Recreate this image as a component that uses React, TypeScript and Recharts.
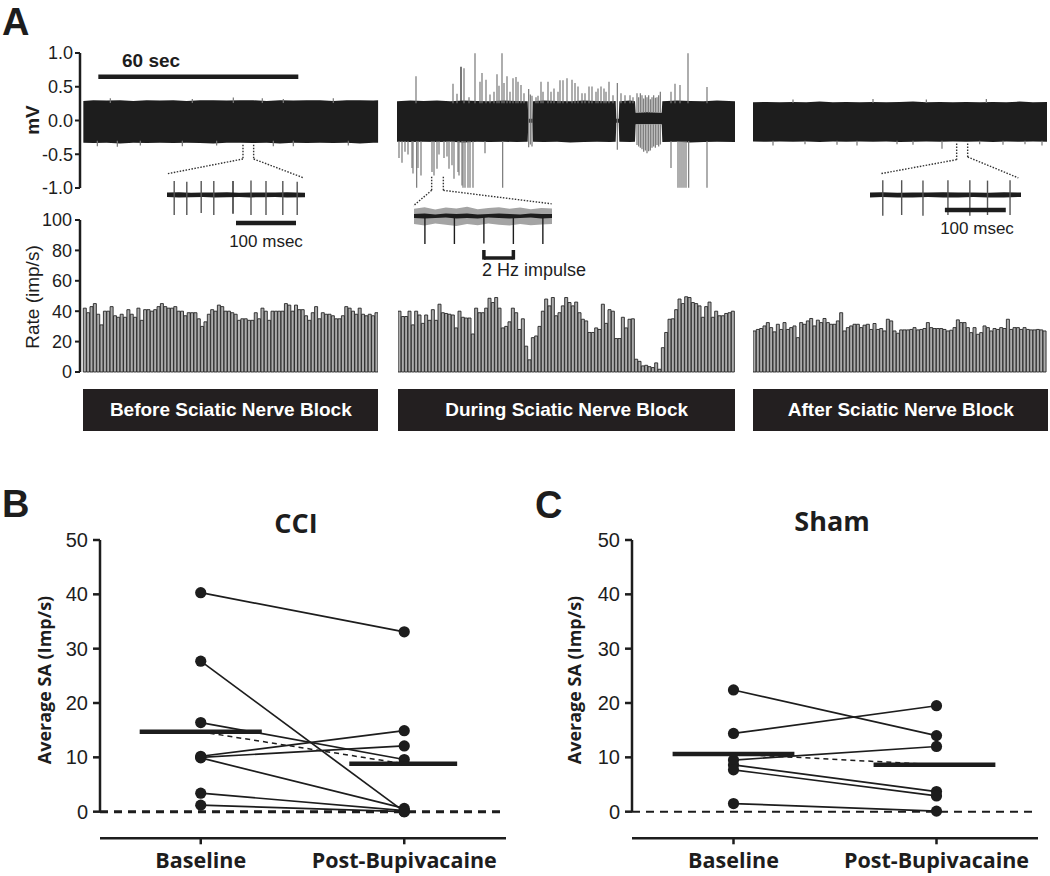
import React from 'react';
import { BarChart, ComposedChart, Bar, Area, Scatter, XAxis, YAxis, ReferenceLine } from 'recharts';

const INK = '#1d1d1d';
const SPIKE = '#777777';
const SANS = '"Liberation Sans", Arial, sans-serif';
const HEAD = '"Open Sans", "Liberation Sans", sans-serif';

// where an up / down spike leaves the noise band (hidden under the band)
const UP_EDGE = 0.26;
const DOWN_EDGE = -0.3;

// ---- A: raw traces, t in seconds, values in mV ----
const BEFORE_BAND_T = [0, 3, 7, 11, 15, 19, 23, 27, 31, 35, 39, 43, 47, 51, 55, 59, 63, 67, 71, 75, 79, 83, 87, 88.5];
const BEFORE_BAND_HI = [0.29, 0.3, 0.295, 0.3, 0.29, 0.3, 0.295, 0.3, 0.29, 0.3, 0.3, 0.295, 0.3, 0.3, 0.29, 0.3, 0.295, 0.3, 0.3, 0.29, 0.3, 0.3, 0.295, 0.3];
const BEFORE_BAND_LO = [-0.33, -0.335, -0.33, -0.34, -0.33, -0.335, -0.33, -0.335, -0.33, -0.335, -0.34, -0.33, -0.33, -0.335, -0.33, -0.34, -0.33, -0.335, -0.33, -0.335, -0.33, -0.34, -0.33, -0.33];
const BEFORE_UP_T = [8.1, 32.7, 45.0, 53.7, 60.0, 75.0];
const BEFORE_UP_V = [0.33, 0.32, 0.34, 0.33, 0.32, 0.33];
const BEFORE_DOWN_T = [4.2, 10.2, 17.1, 29.7, 40.0, 57.0, 63.0, 79.5];
const BEFORE_DOWN_V = [-0.38, -0.39, -0.37, -0.38, -0.37, -0.38, -0.38, -0.37];

const DURING_BAND_T = [0, 4, 8, 12, 16, 20, 24, 28, 32, 36, 39.2, 39.4, 40.6, 40.8, 44, 48, 52, 56, 60, 64, 65.6, 65.8, 66.5, 66.7, 70, 71.4, 71.6, 75, 79.4, 79.6, 84, 88, 92, 96, 101.4];
const DURING_BAND_HI = [0.29, 0.3, 0.295, 0.3, 0.29, 0.3, 0.295, 0.29, 0.3, 0.295, 0.29, 0.03, 0.03, 0.29, 0.3, 0.295, 0.29, 0.3, 0.295, 0.29, 0.295, 0.03, 0.03, 0.29, 0.3, 0.29, 0.12, 0.13, 0.12, 0.29, 0.3, 0.295, 0.29, 0.3, 0.29];
const DURING_BAND_LO = [-0.31, -0.315, -0.31, -0.315, -0.31, -0.32, -0.31, -0.315, -0.31, -0.315, -0.31, -0.03, -0.03, -0.31, -0.315, -0.31, -0.32, -0.315, -0.31, -0.315, -0.31, -0.03, -0.03, -0.31, -0.315, -0.31, -0.05, -0.05, -0.05, -0.315, -0.31, -0.32, -0.315, -0.31, -0.315];
const DURING_UP_T = [5.7, 16.8, 18.0, 20.1, 21.6, 23.4, 24.9, 25.5, 26.7, 27.9, 29.1, 30.0, 30.6, 31.5, 32.1, 33.0, 33.9, 34.8, 35.7, 36.3, 37.2, 38.1, 41.7, 42.3, 43.2, 43.8, 45.3, 46.2, 47.1, 48.3, 48.9, 49.8, 51.0, 52.5, 53.4, 54.3, 55.5, 56.4, 57.6, 58.5, 59.7, 60.3, 61.2, 62.1, 62.7, 63.6, 64.8, 67.2, 68.4, 69.9, 70.8, 82.2, 83.4, 84.9, 87.3, 93.0];
const DURING_UP_V = [0.66, 0.55, 0.4, 0.78, 0.35, 1.0, 0.58, 0.71, 0.61, 0.39, 0.43, 0.69, 0.52, 1.0, 0.56, 0.66, 0.43, 0.63, 0.65, 0.58, 0.53, 0.41, 0.35, 0.37, 0.58, 0.43, 0.58, 0.43, 0.48, 0.43, 0.6, 0.6, 0.63, 0.61, 0.56, 0.51, 0.41, 0.41, 0.51, 0.51, 0.43, 0.48, 0.51, 0.48, 0.43, 0.58, 0.38, 0.41, 0.38, 0.38, 0.35, 0.43, 0.55, 0.53, 1.0, 0.5];
const DURING_DARK_T = [19.2];
const DURING_DARK_V = [0.8];
const DURING_DOWN_T = [0.6, 1.5, 2.4, 3.3, 4.5, 4.8, 5.9, 6.3, 7.2, 10.5, 11.1, 12.0, 12.6, 14.1, 15.0, 15.6, 16.5, 17.1, 18.3, 18.6, 19.5, 19.8, 20.4, 21.3, 21.9, 22.8, 26.4, 31.7, 82.2, 84.3, 84.9, 85.5, 86.1, 86.7, 87.5, 93.0];
const DURING_DOWN_V = [-0.55, -0.62, -0.46, -0.5, -0.7, -0.78, -0.99, -0.7, -0.81, -0.76, -0.81, -0.71, -0.5, -0.55, -0.53, -0.71, -0.66, -0.86, -0.76, -0.81, -0.96, -0.99, -0.99, -0.99, -0.99, -0.99, -0.48, -0.99, -0.7, -0.99, -0.99, -0.99, -0.99, -0.99, -0.99, -0.99];
// short pauses in the band: spikes run straight through
const DURING_GAP_T = [39.5, 40.0, 40.5, 66.1];
const DURING_GAP_HI = [0.47, 0.39, 0.37, 0.56];
const DURING_GAP_LO = [-0.39, -0.35, -0.38, -0.43];
// burst over the thin-band stretch (72-79 s)
const DURING_BURST_T = [72.0, 72.5, 73.0, 73.5, 74.0, 74.5, 75.0, 75.5, 76.0, 76.5, 77.0, 77.5, 78.0, 78.5, 79.0];
const DURING_BURST_HI = [0.41, 0.35, 0.41, 0.38, 0.33, 0.38, 0.35, 0.38, 0.32, 0.35, 0.38, 0.34, 0.35, 0.38, 0.43];
const DURING_BURST_LO = [-0.36, -0.38, -0.4, -0.42, -0.46, -0.44, -0.48, -0.45, -0.44, -0.4, -0.38, -0.4, -0.36, -0.38, -0.35];

const AFTER_BAND_T = [0, 4, 8, 12, 16, 20, 24, 28, 32, 36, 40, 44, 48, 52, 56, 60, 64, 68, 72, 76, 80, 84, 88.2];
const AFTER_BAND_HI = [0.27, 0.275, 0.27, 0.275, 0.27, 0.28, 0.27, 0.275, 0.27, 0.275, 0.27, 0.275, 0.28, 0.27, 0.275, 0.27, 0.275, 0.27, 0.275, 0.27, 0.28, 0.27, 0.275];
const AFTER_BAND_LO = [-0.31, -0.315, -0.31, -0.315, -0.31, -0.32, -0.31, -0.315, -0.31, -0.315, -0.31, -0.32, -0.315, -0.31, -0.315, -0.31, -0.315, -0.31, -0.32, -0.31, -0.315, -0.31, -0.315];
const AFTER_UP_T = [12.0, 36.0, 52.0, 70.0];
const AFTER_UP_V = [0.31, 0.32, 0.31, 0.32];
const AFTER_DOWN_T = [6.0, 15.6, 25.2, 31.2, 43.2, 48.0, 56.7, 68.0, 75.0, 81.6, 86.7];
const AFTER_DOWN_V = [-0.37, -0.35, -0.36, -0.37, -0.35, -0.36, -0.42, -0.35, -0.36, -0.35, -0.37];

// ---- A: expanded insets, t in msec ----
const INSET1_NOISE_T = [0, 20, 40, 60, 80, 100, 120, 140, 160, 180, 200, 230];
const INSET1_NOISE_HI = [0.06, 0.07, 0.055, 0.065, 0.06, 0.07, 0.055, 0.065, 0.06, 0.065, 0.07, 0.055];
const INSET1_NOISE_LO = [-0.05, -0.06, -0.055, -0.05, -0.06, -0.055, -0.05, -0.06, -0.055, -0.05, -0.06, -0.055];
const INSET1_T = [12, 33, 57, 78, 110, 140, 165, 193, 217];
const INSET1_HI = [0.35, 0.33, 0.35, 0.35, 0.35, 0.36, 0.35, 0.35, 0.33];
const INSET1_LO = [-0.5, -0.5, -0.45, -0.5, -0.47, -0.5, -0.5, -0.5, -0.5];

const INSET2_NOISE_T = [0, 180, 360, 540, 720, 900, 1080, 1260, 1440, 1620, 1800, 1980, 2160, 2340];
const INSET2_GREY_HI = [0.18, 0.22, 0.16, 0.21, 0.19, 0.23, 0.17, 0.2, 0.22, 0.18, 0.21, 0.17, 0.2, 0.19];
const INSET2_GREY_LO = [-0.2, -0.24, -0.19, -0.22, -0.25, -0.2, -0.23, -0.19, -0.22, -0.24, -0.2, -0.23, -0.21, -0.2];
const INSET2_CORE_HI = [0.05, 0.06, 0.04, 0.06, 0.05, 0.06, 0.04, 0.05, 0.06, 0.05, 0.04, 0.06, 0.05, 0.05];
const INSET2_CORE_LO = [-0.05, -0.06, -0.05, -0.04, -0.06, -0.05, -0.06, -0.04, -0.05, -0.06, -0.05, -0.04, -0.06, -0.05];
const INSET2_T = [185, 685, 1185, 1685, 2185];
const INSET2_LO = [-0.7, -0.7, -0.69, -0.7, -0.7];
const INSET2_HI = [0, 0, 0, 0, 0];

const INSET3_NOISE_T = [0, 20, 45, 70, 95, 120, 145, 170, 195, 220, 248];
const INSET3_NOISE_HI = [0.06, 0.07, 0.055, 0.065, 0.06, 0.07, 0.06, 0.065, 0.055, 0.07, 0.06];
const INSET3_NOISE_LO = [-0.06, -0.05, -0.065, -0.06, -0.05, -0.065, -0.06, -0.05, -0.065, -0.06, -0.05];
const INSET3_T = [21, 52, 87, 128, 164, 193, 230];
const INSET3_HI = [0.37, 0.37, 0.36, 0.37, 0.37, 0.36, 0.37];
const INSET3_LO = [-0.52, -0.5, -0.52, -0.5, -0.52, -0.5, -0.5];

// ---- A: firing rate histograms, imp/s per 1-s bin ----
const BEFORE_RATE = [42, 39, 43, 45, 38, 31, 40, 40, 43, 37, 36, 38, 36, 41, 38, 36, 42, 34, 41, 41, 40, 41, 43, 45, 43, 42, 42, 43, 40, 40, 37, 39, 39, 39, 35, 30, 33, 38, 41, 40, 44, 43, 40, 40, 39, 38, 34, 35, 35, 34, 34, 39, 35, 42, 40, 34, 40, 40, 40, 40, 45, 44, 40, 44, 41, 41, 37, 34, 39, 43, 35, 39, 38, 38, 37, 35, 35, 37, 43, 42, 40, 38, 42, 38, 37, 38, 37, 39];
const DURING_RATE = [40, 36.5, 36.5, 40, 31, 40, 37.5, 32, 37.5, 34, 41, 34, 44.6, 39, 38.5, 38, 37.5, 29, 40, 36, 35.5, 35.5, 25, 42, 39, 39, 42, 48.5, 45.7, 49, 42, 29, 30, 33, 42, 39, 28, 35, 17, 8, 22.6, 23.7, 30, 40, 48, 43.5, 49, 37, 39, 43.5, 49, 45.7, 43.5, 46, 39, 34.7, 33.6, 26, 26, 29, 28, 44.6, 32, 41, 40, 22, 22, 36, 29, 34.7, 35, 8.4, 7, 4, 4.4, 3.5, 2.9, 6, 1.8, 16, 26, 34.7, 35, 41, 48, 45, 49.5, 49, 45.7, 45, 43.5, 36, 43, 46, 36, 40, 37, 37, 38.5, 39, 40];
const AFTER_RATE = [27, 28, 28.6, 30.3, 32.5, 29.2, 26.4, 31.4, 28, 32.5, 28, 29.2, 30.3, 22.6, 32.5, 31.4, 33.6, 35.2, 30.3, 34.1, 32.5, 35.2, 32.5, 31.4, 31.4, 33.6, 39, 27, 29.2, 30.3, 31.4, 31.4, 29.2, 30.8, 31.4, 28, 31.9, 28, 28.6, 27, 34.7, 33.6, 27, 25.5, 27.7, 27.7, 27.7, 28, 29.2, 27.7, 28, 28.6, 32.5, 29.2, 28.6, 28.6, 28.6, 28, 27, 27.5, 29.2, 34.3, 32.5, 32.5, 29.2, 25.9, 29.2, 24.8, 25.9, 30.3, 29.2, 27, 28.6, 28, 29.2, 28.6, 34.7, 28, 29.2, 29.2, 28, 29.2, 28, 27.7, 27.7, 28, 27.7, 27];

// ---- B / C: average SA per cell (imp/s) ----
const GROUPS = ['Baseline', 'Post-Bupivacaine'];
const CCI_BASE = [40.3, 27.7, 16.4, 10.2, 10.0, 9.9, 3.4, 1.2];
const CCI_POST = [33.1, 0.0, 9.6, 14.9, 12.1, 0.6, 0.2, 0.0];
const CCI_MEAN = [14.7, 8.8];
const SHAM_BASE = [22.4, 14.4, 9.5, 8.6, 7.7, 1.5];
const SHAM_POST = [14.0, 19.5, 12.0, 3.7, 2.9, 0.1];
const SHAM_MEAN = [10.6, 8.65];

type R = { t: number; band?: number[]; grey?: number[] };
type S = { t: number; lo: number; hi: number; dark: boolean };

const bandRows = (t: number[], lo: number[], hi: number[], key = 'band'): R[] =>
  t.map((x, i) => ({ t: x, [key]: [lo[i], hi[i]] } as R));
const merge = (...parts: R[][]) => parts.flat().sort((a, b) => a.t - b.t);

const ups = (t: number[], v: number[], dark = false, edge = UP_EDGE): S[] => t.map((x, i) => ({ t: x, lo: edge, hi: v[i], dark }));
const downs = (t: number[], v: number[], dark = false, edge = DOWN_EDGE): S[] => t.map((x, i) => ({ t: x, lo: v[i], hi: edge, dark }));
const fulls = (t: number[], lo: number[], hi: number[], dark = false): S[] => t.map((x, i) => ({ t: x, lo: lo[i], hi: hi[i], dark }));

const beforeRows = bandRows(BEFORE_BAND_T, BEFORE_BAND_LO, BEFORE_BAND_HI);
const beforeSpikes = [...ups(BEFORE_UP_T, BEFORE_UP_V), ...downs(BEFORE_DOWN_T, BEFORE_DOWN_V)];
const duringRows = bandRows(DURING_BAND_T, DURING_BAND_LO, DURING_BAND_HI);
const duringSpikes = [
  ...ups(DURING_UP_T, DURING_UP_V),
  ...downs(DURING_DOWN_T, DURING_DOWN_V),
  ...fulls(DURING_GAP_T, DURING_GAP_LO, DURING_GAP_HI),
  ...ups(DURING_BURST_T, DURING_BURST_HI, false, 0.12),
  ...downs(DURING_BURST_T, DURING_BURST_LO, false, -0.05),
  ...ups(DURING_DARK_T, DURING_DARK_V, true),
];
const afterRows = bandRows(AFTER_BAND_T, AFTER_BAND_LO, AFTER_BAND_HI);
const afterSpikes = [...ups(AFTER_UP_T, AFTER_UP_V), ...downs(AFTER_DOWN_T, AFTER_DOWN_V)];
const inset1Rows = bandRows(INSET1_NOISE_T, INSET1_NOISE_LO, INSET1_NOISE_HI);
const inset1Spikes = fulls(INSET1_T, INSET1_LO, INSET1_HI).map((s, i) => ({ ...s, dark: i === 4 }));
const inset2Rows = merge(
  bandRows(INSET2_NOISE_T, INSET2_GREY_LO, INSET2_GREY_HI, 'grey'),
  bandRows(INSET2_NOISE_T, INSET2_CORE_LO, INSET2_CORE_HI),
);
const inset2Spikes = fulls(INSET2_T, INSET2_LO, INSET2_HI, true);
const inset3Rows = bandRows(INSET3_NOISE_T, INSET3_NOISE_LO, INSET3_NOISE_HI);
const inset3Spikes = fulls(INSET3_T, INSET3_LO, INSET3_HI);

const dotted = { stroke: '#333', strokeWidth: 1.4, strokeDasharray: '1.5 1.5', ifOverflow: 'visible' as const };

function Trace(props: {
  left: number; top: number; width: number; height: number;
  margin: { top: number; right: number; bottom: number; left: number };
  xDomain: number[]; yDomain: number[]; rows: R[]; spikes: S[]; axis?: boolean; spikeColor?: string; spikeWidth?: number;
  children?: React.ReactNode;
}) {
  const { left, top, width, height, margin, xDomain, yDomain, rows, spikes, axis, spikeColor = SPIKE, spikeWidth = 1.2, children } = props;
  return (
    <div style={{ position: 'absolute', left, top }}>
      <ComposedChart width={width} height={height} data={rows} margin={margin}>
        <XAxis type="number" dataKey="t" domain={xDomain} hide allowDataOverflow />
        {axis ? (
          <YAxis
            type="number"
            domain={yDomain}
            ticks={[-1, -0.5, 0, 0.5, 1]}
            interval={0}
            tickFormatter={(v: number) => v.toFixed(1)}
            width={80}
            axisLine={{ stroke: INK, strokeWidth: 2.5 }}
            tickLine={{ stroke: INK, strokeWidth: 2 }}
            tickSize={5}
            tickMargin={2}
            tick={{ fontFamily: SANS, fontSize: 18, fill: INK }}
          />
        ) : (
          <YAxis type="number" domain={yDomain} hide />
        )}
        <Area dataKey="grey" type="linear" stroke="none" fill="#a4a4a4" fillOpacity={1} connectNulls isAnimationActive={false} />
        <Area dataKey="band" type="linear" stroke="none" fill={INK} fillOpacity={1} connectNulls isAnimationActive={false} />
        {spikes.map((s, i) => (
          <ReferenceLine
            key={'s' + i}
            segment={[{ x: s.t, y: s.lo }, { x: s.t, y: s.hi }]}
            stroke={s.dark ? INK : spikeColor}
            strokeWidth={spikeWidth}
            ifOverflow="visible"
          />
        ))}
        {children}
      </ComposedChart>
    </div>
  );
}

function Histo({ left, width, rates, axis }: { left: number; width: number; rates: number[]; axis?: boolean }) {
  const data = rates.map((v, i) => ({ bin: i, rate: v }));
  return (
    <div style={{ position: 'absolute', left, top: 210 }}>
      <BarChart width={width} height={172} data={data} margin={{ top: 10, right: 0, bottom: 10, left: 0 }} barCategoryGap={0} barGap={0}>
        <XAxis dataKey="bin" hide padding={axis ? { left: 3.3, right: 0 } : { left: 0, right: 0 }} />
        <YAxis
          domain={[0, 100]}
          ticks={[0, 20, 40, 60, 80, 100]}
          interval={0}
          hide={!axis}
          width={80}
          axisLine={{ stroke: INK, strokeWidth: 2.5 }}
          tickLine={{ stroke: INK, strokeWidth: 2 }}
          tickSize={5}
          tickMargin={3}
          tick={{ fontFamily: SANS, fontSize: 18, fill: INK }}
        />
        <Bar dataKey="rate" fill="#acacac" stroke="#262626" strokeWidth={0.9} isAnimationActive={false} />
      </BarChart>
    </div>
  );
}

const Dot = (p: any) => <circle cx={p.cx} cy={p.cy} r={5.6} fill={INK} />;
const NoDot = () => <g />;

function Paired(props: {
  left: number; width: number; xDomain: number[]; base: number[]; post: number[]; mean: number[];
  baseSpan: number[]; postSpan: number[]; zeroWidth: number; zeroDash: string;
}) {
  const { left, width, xDomain, base, post, mean, baseSpan, postSpan, zeroWidth, zeroDash } = props;
  return (
    <div style={{ position: 'absolute', left, top: 530 }}>
      <ComposedChart width={width} height={346} margin={{ top: 10, right: width - 100 - 406, bottom: 7.7, left: 0 }}>
        <XAxis
          type="number"
          dataKey="x"
          domain={xDomain}
          ticks={[0, 1]}
          interval={0}
          allowDataOverflow
          tickFormatter={(v: number) => GROUPS[v]}
          height={30}
          axisLine={{ stroke: INK, strokeWidth: 2.5 }}
          tickLine={{ stroke: INK, strokeWidth: 2.5 }}
          tickSize={6}
          tickMargin={8}
          tick={{ fontFamily: HEAD, fontWeight: 700, fontSize: 21.5, fill: INK }}
        />
        <YAxis
          type="number"
          dataKey="y"
          domain={[-4.9, 50]}
          ticks={[0, 10, 20, 30, 40, 50]}
          interval={0}
          allowDataOverflow
          width={100}
          axisLine={false}
          tickLine={{ stroke: INK, strokeWidth: 2.5 }}
          tickSize={7}
          tickMargin={5}
          tick={{ fontFamily: SANS, fontSize: 20, fill: INK }}
        />
        <ReferenceLine segment={[{ x: xDomain[0], y: 0 }, { x: xDomain[0], y: 50 }]} stroke={INK} strokeWidth={2.5} ifOverflow="visible" />
        <ReferenceLine y={0} stroke={INK} strokeWidth={zeroWidth} strokeDasharray={zeroDash} />
        <Scatter
          data={[{ x: 0, y: mean[0] }, { x: 1, y: mean[1] }]}
          line={{ stroke: INK, strokeWidth: 1.5, strokeDasharray: '5 4' }}
          shape={NoDot}
          isAnimationActive={false}
        />
        {base.map((b, i) => (
          <Scatter
            key={i}
            data={[{ x: 0, y: b }, { x: 1, y: post[i] }]}
            line={{ stroke: INK, strokeWidth: 1.7 }}
            shape={Dot}
            isAnimationActive={false}
          />
        ))}
        <Scatter data={[{ x: baseSpan[0], y: mean[0] }, { x: baseSpan[1], y: mean[0] }]} line={{ stroke: INK, strokeWidth: 4.5 }} shape={NoDot} isAnimationActive={false} />
        <Scatter data={[{ x: postSpan[0], y: mean[1] }, { x: postSpan[1], y: mean[1] }]} line={{ stroke: INK, strokeWidth: 4.5 }} shape={NoDot} isAnimationActive={false} />
      </ComposedChart>
    </div>
  );
}

const boxStyle = (left: number, width: number): React.CSSProperties => ({
  position: 'absolute', left, top: 389, width, height: 42, background: '#231f20', color: '#fff',
  fontFamily: SANS, fontWeight: 700, fontSize: 19, display: 'flex', alignItems: 'center', justifyContent: 'center',
});

const noMargin = { top: 0, right: 0, bottom: 0, left: 0 };

export default function App() {
  return (
    <div style={{ position: 'absolute', left: 0, top: 0, width: 1050, height: 876, background: '#fff', fontFamily: SANS, overflow: 'hidden' }}>
      {/* raw traces */}
      <Trace left={0} top={43.3} width={380} height={155} margin={{ top: 10, right: 1.7, bottom: 10, left: 0 }} xDomain={[-1, 88.5]} yDomain={[-1, 1]} rows={beforeRows} spikes={beforeSpikes} axis>
        <ReferenceLine segment={[{ x: 4.5, y: 0.65 }, { x: 64.5, y: 0.65 }]} stroke={INK} strokeWidth={4.5} ifOverflow="visible" />
        <ReferenceLine segment={[{ x: 47.9, y: -0.36 }, { x: 47.9, y: -0.57 }]} {...dotted} />
        <ReferenceLine segment={[{ x: 51.1, y: -0.36 }, { x: 51.1, y: -0.57 }]} {...dotted} />
        <ReferenceLine segment={[{ x: 47.9, y: -0.57 }, { x: 25.1, y: -0.79 }]} {...dotted} />
        <ReferenceLine segment={[{ x: 51.1, y: -0.57 }, { x: 66.1, y: -0.85 }]} {...dotted} />
      </Trace>
      <Trace left={397} top={30} width={338} height={180} margin={{ top: 9.8, right: 0, bottom: 8.2, left: 0 }} xDomain={[0, 101.4]} yDomain={[-1.2, 1.2]} rows={duringRows} spikes={duringSpikes}>
        <ReferenceLine segment={[{ x: 10.4, y: -0.83 }, { x: 10.4, y: -1.03 }]} {...dotted} />
        <ReferenceLine segment={[{ x: 13.9, y: -0.83 }, { x: 13.9, y: -1.03 }]} {...dotted} />
        <ReferenceLine segment={[{ x: 10.4, y: -1.03 }, { x: 4.9, y: -1.26 }]} {...dotted} />
        <ReferenceLine segment={[{ x: 13.9, y: -1.03 }, { x: 46.4, y: -1.23 }]} {...dotted} />
      </Trace>
      <Trace left={753} top={43.3} width={297} height={155} margin={{ top: 10, right: 0, bottom: 10, left: 0 }} xDomain={[0, 89.1]} yDomain={[-1, 1]} rows={afterRows} spikes={afterSpikes}>
        <ReferenceLine segment={[{ x: 61.1, y: -0.34 }, { x: 61.1, y: -0.58 }]} {...dotted} />
        <ReferenceLine segment={[{ x: 64.4, y: -0.34 }, { x: 64.4, y: -0.54 }]} {...dotted} />
        <ReferenceLine segment={[{ x: 61.1, y: -0.58 }, { x: 38.1, y: -0.79 }]} {...dotted} />
        <ReferenceLine segment={[{ x: 64.4, y: -0.54 }, { x: 79.6, y: -0.85 }]} {...dotted} />
      </Trace>

      {/* insets */}
      <Trace left={167} top={175} width={138} height={60} margin={noMargin} xDomain={[0, 230]} yDomain={[-1, 0.5]} rows={inset1Rows} spikes={inset1Spikes} spikeColor="#555" spikeWidth={1.4}>
        <ReferenceLine segment={[{ x: 115, y: -0.7 }, { x: 215, y: -0.7 }]} stroke={INK} strokeWidth={4.5} ifOverflow="visible" />
      </Trace>
      <Trace left={414} top={200} width={138} height={60} margin={noMargin} xDomain={[0, 2340]} yDomain={[-1.1, 0.4]} rows={inset2Rows} spikes={inset2Spikes} spikeWidth={1.4}>
        <ReferenceLine segment={[{ x: 1185, y: -1.05 }, { x: 1685, y: -1.05 }]} stroke={INK} strokeWidth={3.5} ifOverflow="visible" />
        <ReferenceLine segment={[{ x: 1185, y: -1.09 }, { x: 1185, y: -0.85 }]} stroke={INK} strokeWidth={3.5} ifOverflow="visible" />
        <ReferenceLine segment={[{ x: 1685, y: -1.09 }, { x: 1685, y: -0.85 }]} stroke={INK} strokeWidth={3.5} ifOverflow="visible" />
      </Trace>
      <Trace left={870} top={175} width={151} height={60} margin={noMargin} xDomain={[0, 248]} yDomain={[-1, 0.5]} rows={inset3Rows} spikes={inset3Spikes} spikeColor="#555" spikeWidth={1.4}>
        <ReferenceLine segment={[{ x: 123, y: -0.375 }, { x: 223, y: -0.375 }]} stroke={INK} strokeWidth={4.5} ifOverflow="visible" />
      </Trace>

      {/* rate histograms */}
      <Histo left={0} width={378.3} rates={BEFORE_RATE} axis />
      <Histo left={398.3} width={336.7} rates={DURING_RATE} />
      <Histo left={753.3} width={293.4} rates={AFTER_RATE} />

      <div style={boxStyle(83.3, 295)}>Before Sciatic Nerve Block</div>
      <div style={boxStyle(398.3, 336.7)}>During Sciatic Nerve Block</div>
      <div style={boxStyle(753.3, 295)}>After Sciatic Nerve Block</div>

      {/* B and C */}
      <Paired left={0} width={520} xDomain={[-0.495, 1.5]} base={CCI_BASE} post={CCI_POST} mean={CCI_MEAN}
        baseSpan={[-0.3, 0.3]} postSpan={[0.73, 1.26]} zeroWidth={3} zeroDash="8 6" />
      <Paired left={532} width={518} xDomain={[-0.5, 1.5]} base={SHAM_BASE} post={SHAM_POST} mean={SHAM_MEAN}
        baseSpan={[-0.3, 0.3]} postSpan={[0.69, 1.29]} zeroWidth={2} zeroDash="8 6" />

      {/* lettering */}
      <svg width={1050} height={876} style={{ position: 'absolute', left: 0, top: 0, pointerEvents: 'none' }}>
        <g fontFamily={SANS} fontWeight={700} fill={INK}>
          <text x={2} y={35} fontSize={38}>A</text>
          <text x={2} y={517} fontSize={38}>B</text>
          <text x={535} y={518} fontSize={38}>C</text>
        </g>
        <g fontFamily={HEAD} fontWeight={700} fill={INK}>
          <text x={296} y={533} fontSize={27} textAnchor="middle">CCI</text>
          <text x={832} y={531} fontSize={27} textAnchor="middle">Sham</text>
          <text transform="translate(44,680) rotate(-90)" fontSize={18} textAnchor="middle" dominantBaseline="central">Average SA (Imp/s)</text>
          <text transform="translate(574,680) rotate(-90)" fontSize={18} textAnchor="middle" dominantBaseline="central">Average SA (Imp/s)</text>
        </g>
        <g fontFamily={SANS} fill={INK}>
          <text x={122} y={67} fontSize={19} fontWeight={700}>60 sec</text>
          <text transform="translate(32,120) rotate(-90)" fontSize={19} fontWeight={700} textAnchor="middle" dominantBaseline="central">mV</text>
          <text transform="translate(32,297) rotate(-90)" fontSize={19} textAnchor="middle" dominantBaseline="central">Rate (imp/s)</text>
          <text x={266} y={247} fontSize={17} textAnchor="middle">100 msec</text>
          <text x={482} y={276} fontSize={18}>2 Hz impulse</text>
          <text x={977} y={234} fontSize={17} textAnchor="middle">100 msec</text>
        </g>
      </svg>
    </div>
  );
}
